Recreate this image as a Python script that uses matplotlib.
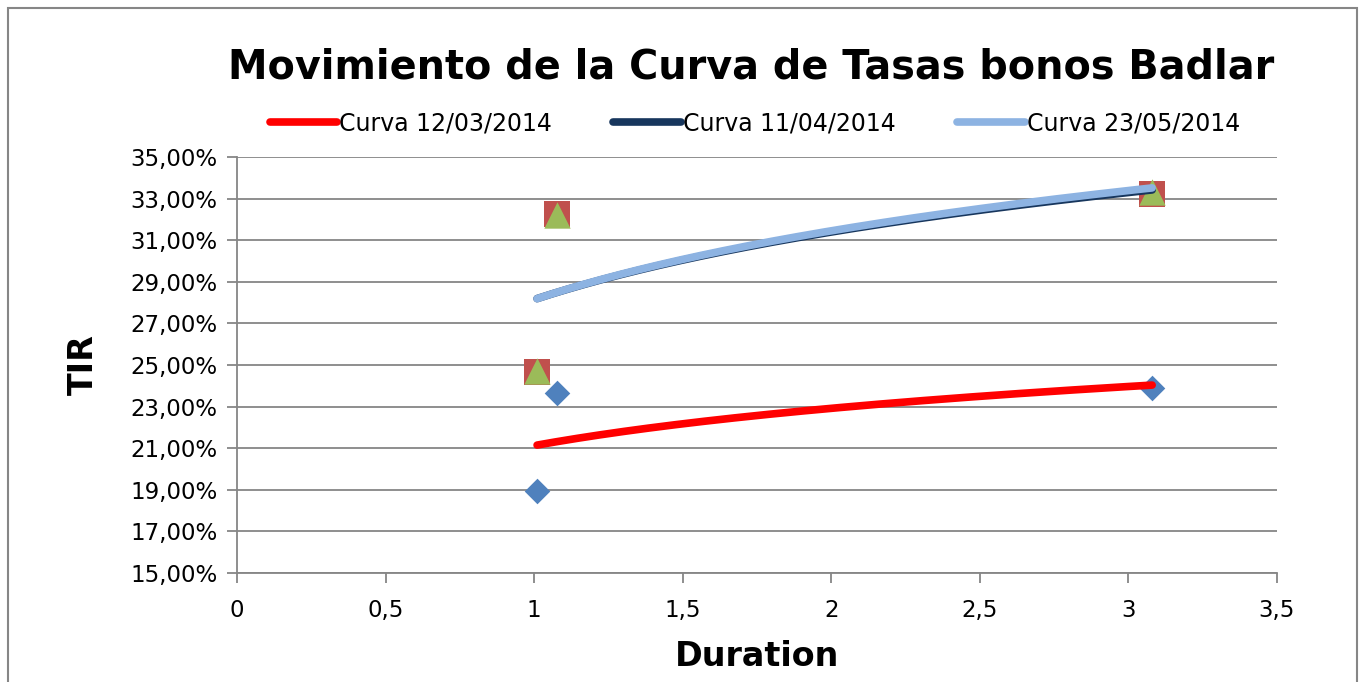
import numpy as np
import matplotlib
matplotlib.use("Agg")
import matplotlib.pyplot as plt
from matplotlib.patches import Rectangle
from matplotlib.ticker import FuncFormatter, MultipleLocator

# scatter data (duration, TIR %)
dur_1203 = [1.01, 1.077, 3.08]
tir_1203 = [18.95, 23.65, 23.9]
dur_1104 = [1.01, 1.077, 3.08]
tir_1104 = [24.65, 32.25, 33.2]
dur_2305 = [1.01, 1.077, 3.08]
tir_2305 = [24.7, 32.2, 33.3]

labels = ["Curva 12/03/2014", "Curva 11/04/2014", "Curva 23/05/2014"]
line_colors = ["#ff0000", "#17365d", "#8db3e2"]
y_ticks = [15, 17, 19, 21, 23, 25, 27, 29, 31, 33, 35]

fig = plt.figure(figsize=(13.65, 6.82), dpi=100)
ax = fig.add_axes([0.1736, 0.1598, 0.7619, 0.61])

# markers
ax.scatter(dur_1203, tir_1203, marker="D", s=170, color="#4f81bd", zorder=3, linewidths=0)
ax.scatter(dur_1104, tir_1104, marker="s", s=360, color="#c0504d", zorder=3, linewidths=0)
ax.scatter(dur_2305, tir_2305, marker="^", s=360, color="#9bbb59", zorder=4, linewidths=0)


# logarithmic trendlines, as Excel draws them
def log_trend(xs, ys):
    b, a = np.polyfit(np.log(xs), ys, 1)
    xx = np.linspace(min(xs), max(xs), 200)
    return xx, a + b * np.log(xx)


series = [(dur_1203, tir_1203), (dur_1104, tir_1104), (dur_2305, tir_2305)]
for (xs, ys), lab, c in zip(series, labels, line_colors):
    xx, yy = log_trend(xs, ys)
    ax.plot(xx, yy, color=c, lw=5.5, solid_capstyle="round", label=lab, zorder=5)

ax.set_xlim(0, 3.5)
ax.set_ylim(15, 35)
ax.xaxis.set_major_locator(MultipleLocator(0.5))
ax.set_yticks(y_ticks)
ax.xaxis.set_major_formatter(FuncFormatter(lambda v, p: f"{v:g}".replace(".", ",")))
ax.yaxis.set_major_formatter(FuncFormatter(lambda v, p: f"{v:.2f}%".replace(".", ",")))

ax.grid(axis="y", color="#868686", lw=1.3)
ax.set_axisbelow(True)
for s in ["top", "right"]:
    ax.spines[s].set_visible(False)
for s in ["left", "bottom"]:
    ax.spines[s].set_color("#868686")
    ax.spines[s].set_linewidth(1.3)
ax.tick_params(axis="both", colors="#868686", length=7, width=1.3, labelcolor="black",
               labelsize=16.5)
ax.tick_params(axis="y", pad=7)
ax.tick_params(axis="x", pad=12)

ax.set_xlabel("Duration", fontsize=24, fontweight="bold", labelpad=13)
ax.set_ylabel("TIR", fontsize=24, fontweight="bold", labelpad=22)

fig.suptitle("Movimiento de la Curva de Tasas bonos Badlar", x=0.55, y=0.93,
             fontsize=28.6, fontweight="bold")

leg = ax.legend(loc="center", bbox_to_anchor=(0.498, 1.08), ncol=3, frameon=False,
                fontsize=17, handlelength=2.85, handletextpad=0.1, columnspacing=2.6)

# outer chart border
fig.add_artist(Rectangle((0.006, -0.05), 0.988, 1.038, transform=fig.transFigure,
                         fill=False, edgecolor="#868686", lw=1.5))

fig.savefig("out.png", dpi=100)
